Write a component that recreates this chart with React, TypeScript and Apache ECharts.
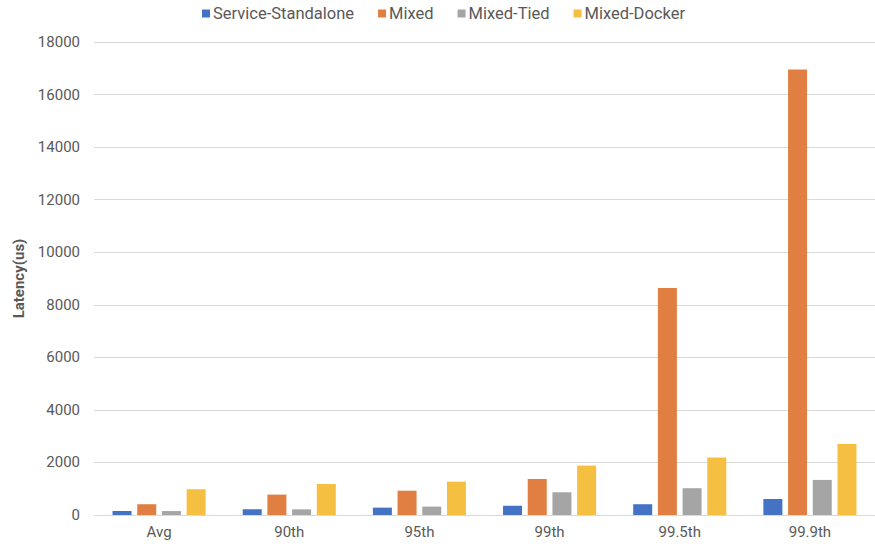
import React, { useEffect, useRef } from "react";
import * as echarts from "echarts";

const categories = ["Avg", "90th", "95th", "99th", "99.5th", "99.9th"];
const seriesNames = ["Service-Standalone", "Mixed", "Mixed-Tied", "Mixed-Docker"];
const serviceStandalone = [150, 215, 280, 355, 410, 610];
const mixed = [410, 775, 925, 1370, 8640, 16950];
const mixedTied = [150, 215, 320, 865, 1020, 1335];
const mixedDocker = [980, 1180, 1270, 1880, 2185, 2705];
const colors = ["#4472C4", "#E07F41", "#A5A5A5", "#F5BF41"];

export default function App() {
  const ref = useRef<HTMLDivElement>(null);

  useEffect(() => {
    if (!ref.current) return;
    const chart = echarts.init(ref.current, undefined, { renderer: "svg" });
    const values = [serviceStandalone, mixed, mixedTied, mixedDocker];
    const font = "Roboto, 'Noto Sans', sans-serif";
    chart.setOption({
      animation: false,
      backgroundColor: "#ffffff",
      color: colors,
      legend: {
        top: 0,
        left: 197,
        itemWidth: 8,
        itemHeight: 8,
        itemGap: 24,
        icon: "rect",
        textStyle: { color: "#595959", fontSize: 16.5, fontFamily: font, padding: [0, 0, 0, -2] },
        data: seriesNames,
      },
      grid: { left: 94, right: -8, top: 42, bottom: 33 },
      xAxis: {
        type: "category",
        data: categories,
        axisLine: { lineStyle: { color: "#D9D9D9", width: 1 } },
        axisTick: { show: false },
        axisLabel: { color: "#595959", fontSize: 15, fontFamily: font, margin: 9 },
      },
      yAxis: {
        type: "value",
        min: 0,
        max: 18000,
        interval: 2000,
        name: "Latency(us)",
        nameLocation: "middle",
        nameGap: 66,
        nameTextStyle: { color: "#595959", fontSize: 15, fontWeight: "bold", fontFamily: font },
        axisLine: { show: false },
        axisTick: { show: false },
        axisLabel: {
          color: "#595959",
          fontSize: 15,
          fontFamily: font,
          margin: 14,
          formatter: (v: number) => String(v),
        },
        splitLine: { lineStyle: { color: "#D9D9D9", width: 1 } },
      },
      series: seriesNames.map((name, i) => ({
        name,
        type: "bar",
        data: values[i],
        barWidth: 19,
        barGap: "30%",
        itemStyle: { color: colors[i] },
      })),
    });
    return () => chart.dispose();
  }, []);

  return (
    <div
      ref={ref}
      style={{ position: "fixed", left: 0, top: 0, width: 875, height: 548 }}
    />
  );
}
